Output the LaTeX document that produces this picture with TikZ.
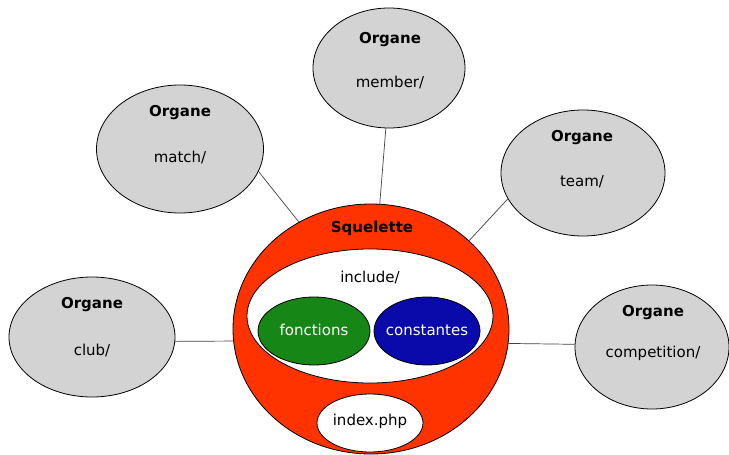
\documentclass[tikz,border=0pt]{standalone}
\usepackage{fontspec}
\setmainfont{DejaVu Sans}
\usetikzlibrary{shapes.geometric}
\definecolor{organgray}{RGB}{211,211,211}
\definecolor{sqred}{RGB}{255,51,0}
\definecolor{fgreen}{RGB}{22,134,22}
\definecolor{cblue}{RGB}{10,10,170}
\tikzset{
  organ/.style={ellipse, draw=black, line width=0.8pt, fill=organgray, inner sep=0pt},
  inner/.style={ellipse, draw=black, line width=0.8pt, inner sep=0pt},
  ttl/.style={font=\fontsize{15}{17}\selectfont\bfseries, inner sep=0pt},
  txt/.style={font=\fontsize{15}{17}\selectfont, inner sep=0pt},
  wtxt/.style={font=\fontsize{15}{17}\selectfont, text=white, inner sep=0pt},
  link/.style={draw=black!75, line width=0.7pt}
}
\begin{document}
\begin{tikzpicture}[x=1pt,y=-1pt]
\useasboundingbox (0,0) rectangle (729,455);
% organs
\node[organ, minimum width=166pt, minimum height=120pt] (club) at (92,337) {};
\node[organ, minimum width=167pt, minimum height=128pt] (match) at (180,149) {};
\node[organ, minimum width=152pt, minimum height=120pt] (member) at (389,68) {};
\node[organ, minimum width=164pt, minimum height=126pt] (team) at (583,173) {};
\node[organ, minimum width=154pt, minimum height=124pt] (comp) at (652,347) {};
% skeleton
\node[ellipse, draw=black, line width=0.8pt, fill=sqred, minimum width=276pt, minimum height=250pt, inner sep=0pt] (sq) at (371,329) {};
\node[inner, fill=white, minimum width=246pt, minimum height=134pt] (inc) at (370,316) {};
\node[inner, fill=fgreen, minimum width=112pt, minimum height=68pt] (fon) at (314,331) {};
\node[inner, fill=cblue, minimum width=106pt, minimum height=68pt] (con) at (427,331) {};
\node[inner, fill=white, minimum width=106pt, minimum height=58pt] (idx) at (370,423) {};
% links
\draw[link] (club.-3) -- (sq.185);
\draw[link] (match.-16) -- (sq.124);
\draw[link] (member.-93) -- (sq.86);
\draw[link] (team.-161) -- (sq.42);
\draw[link] (comp.178) -- (sq.-6);
% texts
\node[ttl] (clubT) at (92,305) {Organe};
\node[txt] (clubD) at (92,350) {club/};
\node[ttl] (matchT) at (180,113) {Organe};
\node[txt] (matchD) at (180,157) {match/};
\node[ttl] (memberT) at (390,40) {Organe};
\node[txt] (memberD) at (390,82) {member/};
\node[ttl] (teamT) at (582,138) {Organe};
\node[txt] (teamD) at (582,182) {team/};
\node[ttl] (compT) at (653,313) {Organe};
\node[txt] (compD) at (653,353) {competition/};
\node[ttl] (sqT) at (372,228) {Squelette};
\node[txt] (incT) at (370,277) {include/};
\node[wtxt] (fonT) at (314,330) {fonctions};
\node[wtxt] (conT) at (427,330) {constantes};
\node[txt] (idxT) at (370,421) {index.php};
\end{tikzpicture}
\end{document}
